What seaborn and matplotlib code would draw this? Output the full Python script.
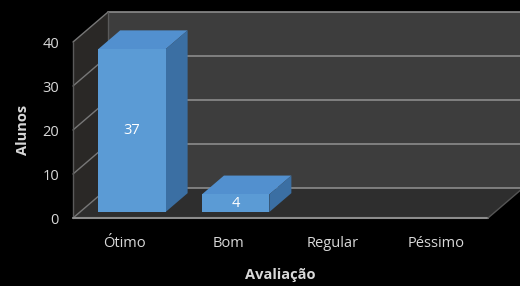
import matplotlib
matplotlib.use("Agg")
import matplotlib.pyplot as plt
from matplotlib.patches import Polygon
import seaborn as sns

##  Data
categorias = ["Ótimo", "Bom", "Regular", "Péssimo"]
alunos = [37, 4, 0, 0]
yticks = [0, 10, 20, 30, 40]

#  Style
sns.set_style("dark", rc={"figure.facecolor": "black", "axes.facecolor": "none"})
plt.rcParams["font.family"] = ["Open Sans", "DejaVu Sans"]

texto = "#d9d9d9"
grade = "#8c8c8c"

fig = plt.figure(figsize=(5.2, 2.86), dpi=100)
ax = fig.add_axes([73 / 520, 68 / 286, 415 / 520, 176 / 286])
ax.set_xlim(-0.5, len(categorias) - 0.5)
ax.set_ylim(0, 40)

#  Depth vector in data units (oblique 3D look)
DX, DY = 0.337, 6.8
x0, x1 = -0.5, len(categorias) - 0.5
ytop = yticks[-1]

#  Back wall, floor and side wall
ax.add_patch(Polygon([(x0 + DX, DY), (x1 + DX, DY), (x1 + DX, ytop + DY), (x0 + DX, ytop + DY)],
                     closed=True, fc="#3d3d3d", ec="none", clip_on=False, zorder=0))
ax.add_patch(Polygon([(x0, 0), (x1, 0), (x1 + DX, DY), (x0 + DX, DY)],
                     closed=True, fc="#2e2e2e", ec="none", clip_on=False, zorder=0))
ax.add_patch(Polygon([(x0, 0), (x0 + DX, DY), (x0 + DX, ytop + DY), (x0, ytop)],
                     closed=True, fc="#2a2826", ec="none", clip_on=False, zorder=0))

#  Gridlines on back and side walls
for v in yticks:
    ax.plot([x0 + DX, x1 + DX], [v + DY, v + DY], color=grade, lw=1.2, clip_on=False, zorder=1)
    ax.plot([x0, x0 + DX], [v, v + DY], color="#777777", lw=1.0, clip_on=False, zorder=1)
ax.plot([x0, x0], [0, ytop], color="#5a5a5a", lw=1.0, clip_on=False, zorder=1)
ax.plot([x0 + DX, x0 + DX], [DY, ytop + DY], color="#5a5a5a", lw=1.0, clip_on=False, zorder=1)
ax.plot([x0, x1], [0, 0], color=grade, lw=1.5, clip_on=False, zorder=1)
ax.plot([x1, x1 + DX], [0, DY], color="#555555", lw=1.0, clip_on=False, zorder=1)

#  Bars (front faces)
sns.barplot(x=categorias, y=alunos, order=categorias, color="#5b9bd5", saturation=1,
            width=0.65, linewidth=0, ax=ax, zorder=3)

#  Shift bars into their depth slot and add top and side faces
d0, d1 = 0.2, 0.83
for p in ax.patches:
    if not hasattr(p, "get_width") or p.get_height() <= 0:
        continue
    bx = p.get_x() + d0 * DX
    by = d0 * DY
    w, h = p.get_width(), p.get_height()
    p.set_x(bx)
    p.set_y(by)
    p.set_clip_on(False)
    ddx, ddy = (d1 - d0) * DX, (d1 - d0) * DY
    ax.add_patch(Polygon([(bx, by + h), (bx + w, by + h), (bx + w + ddx, by + h + ddy), (bx + ddx, by + h + ddy)],
                         closed=True, fc="#5290cf", ec="none", clip_on=False, zorder=2))
    ax.add_patch(Polygon([(bx + w, by), (bx + w + ddx, by + ddy), (bx + w + ddx, by + h + ddy), (bx + w, by + h)],
                         closed=True, fc="#3b6fa3", ec="none", clip_on=False, zorder=2))

#  Value labels
ax.bar_label(ax.containers[0], labels=[str(v) if v > 0 else "" for v in alunos],
             label_type="center", color="white", fontsize=10.5)

#  Axes text
ax.set_yticks(yticks)
ax.tick_params(axis="both", length=0, colors=texto, labelsize=10.5)
ax.tick_params(axis="y", pad=10)
ax.tick_params(axis="x", pad=13)
ax.set_xlabel("Avaliação", color=texto, fontsize=10.5, fontweight="bold", labelpad=12)
ax.set_ylabel("Alunos", color=texto, fontsize=10.5, fontweight="bold", labelpad=9)
ax.grid(False)
for s in ax.spines.values():
    s.set_visible(False)

fig.savefig("out.png", dpi=100, facecolor="black")
